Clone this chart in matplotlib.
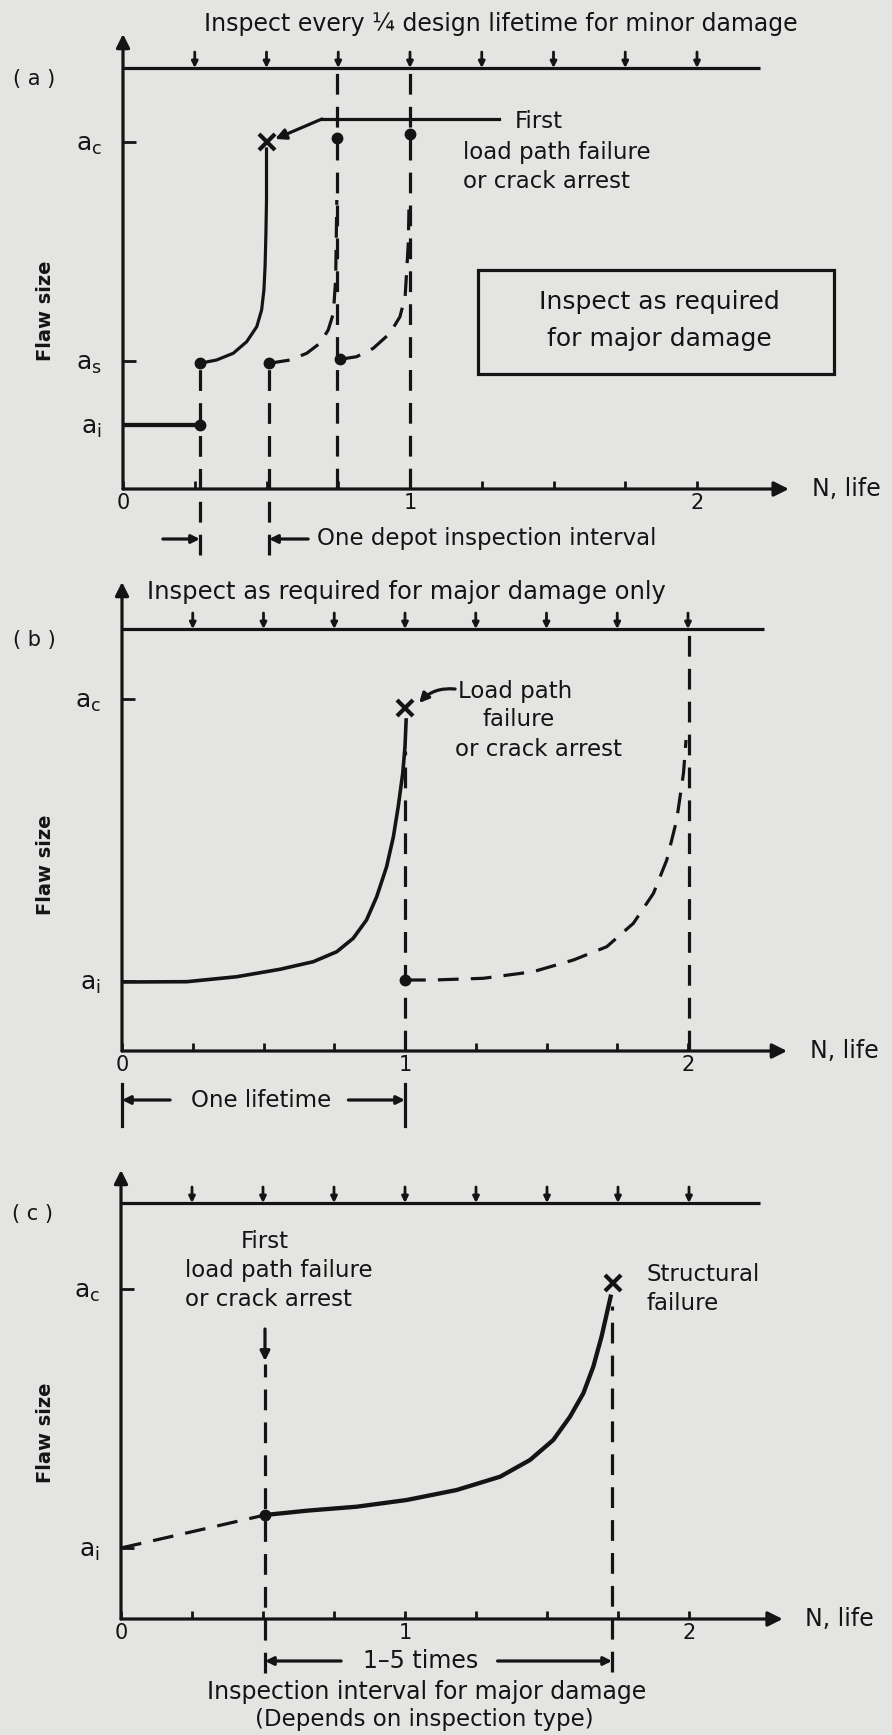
import matplotlib
matplotlib.use('Agg')
import matplotlib.pyplot as plt
from matplotlib.patches import Rectangle

plt.rcParams['font.family'] = ['DejaVu Sans']
plt.rcParams['mathtext.default'] = 'regular'

W, H = 892, 1735
BG = '#e4e4e2'
INK = '#141414'
LW = 2.3
DASH = (6.5, 3.8)
TXT = 16.5
TITLE = 17

# ---------------- data ----------------
quarters = [0.25, 0.5, 0.75, 1.0, 1.25, 1.5, 1.75, 2.0]
xtick_labels = ['0', '1', '2']
xtick_pos = [0, 1, 2]

# panel (a)
a_levels = {'c': 3.47, 's': 1.28, 'i': 0.64}
a_top = 4.21
a_tip = 4.55
a_init_x = [0.0, 0.268]
a_init_y = [0.64, 0.64]
a_solid_x = [0.268, 0.326, 0.384, 0.431, 0.466, 0.483, 0.491, 0.495, 0.498, 0.50, 0.50]
a_solid_y = [1.257, 1.29, 1.357, 1.473, 1.623, 1.79, 1.99, 2.223, 2.557, 2.89, 3.40]
a_dash1_x = [0.509, 0.582, 0.64, 0.686, 0.715, 0.733, 0.741, 0.745]
a_dash1_y = [1.257, 1.29, 1.357, 1.457, 1.59, 1.757, 2.10, 2.89]
a_dash2_x = [0.756, 0.814, 0.872, 0.93, 0.965, 0.983, 0.988, 0.994, 0.997]
a_dash2_y = [1.297, 1.323, 1.407, 1.557, 1.723, 1.923, 2.157, 2.457, 2.89]
a_dots_x = [0.268, 0.268, 0.509, 0.756, 0.745, 1.0]
a_dots_y = [0.64, 1.257, 1.257, 1.297, 3.51, 3.55]
a_fail = (0.50, 3.47)

# panel (b)
b_levels = {'c': 3.52, 'i': 0.70}
b_top = 4.22
b_tip = 4.69
b_solid_x = [0.0, 0.229, 0.406, 0.558, 0.676, 0.759, 0.817, 0.864, 0.90, 0.935, 0.959,
             0.976, 0.992, 1.0, 1.004]
b_solid_y = [0.69, 0.693, 0.743, 0.817, 0.893, 0.993, 1.127, 1.31, 1.543, 1.843, 2.143,
             2.443, 2.777, 3.043, 3.31]
b_dash_x = [1.0, 1.10, 1.277, 1.453, 1.595, 1.713, 1.807, 1.878, 1.925, 1.96, 1.984, 1.993]
b_dash_y = [0.71, 0.71, 0.727, 0.793, 0.91, 1.043, 1.277, 1.577, 1.91, 2.31, 2.777, 3.11]
b_fail = (1.0, 3.43)

# panel (c)
c_levels = {'c': 3.30, 'i': 0.71}
c_top = 4.16
c_tip = 4.49
c_pre_x = [0.0, 0.507]
c_pre_y = [0.71, 1.04]
c_solid_x = [0.507, 0.654, 0.83, 1.006, 1.182, 1.335, 1.44, 1.522, 1.581, 1.628, 1.663,
             1.692, 1.716, 1.724]
c_solid_y = [1.04, 1.083, 1.123, 1.19, 1.29, 1.423, 1.59, 1.79, 2.023, 2.257, 2.523,
             2.823, 3.123, 3.223]
c_fail = (1.733, 3.357)

# ---------------- helpers ----------------
fig = plt.figure(figsize=(W / 100, H / 100), dpi=100, facecolor=BG)


def make_axes(x0, yaxis, unit, xmax, ymax):
    ax = fig.add_axes([x0 / W, (H - yaxis) / H, xmax * unit / W, ymax * 100 / H])
    ax.set_xlim(0, xmax)
    ax.set_ylim(0, ymax)
    ax.set_facecolor('none')
    for s in ax.spines.values():
        s.set_visible(False)
    return ax


def arrow(ax, x0, y0, x1, y1, ms=18, lw=LW):
    ax.annotate('', xy=(x1, y1), xytext=(x0, y0), annotation_clip=False,
                arrowprops=dict(arrowstyle='-|>', lw=lw, color=INK, mutation_scale=ms,
                                shrinkA=0, shrinkB=0))


def txt(ax, x, y, s, ha='left', size=TXT, **kw):
    ax.text(x, y, s, fontsize=size, ha=ha, va='center', color=INK, clip_on=False, **kw)


def frame(ax, levels, top, tip, xend, topend, panel_label, label_x, label_y):
    arrow(ax, 0, 0, 0, tip, ms=20)
    arrow(ax, 0, 0, xend, 0, ms=22)
    ax.plot([0, topend], [top, top], color=INK, lw=LW, solid_capstyle='butt')
    for q in quarters:
        arrow(ax, q, top + 0.16, q, top, ms=9, lw=2.0)
    ax.set_xticks(xtick_pos)
    ax.set_xticklabels(xtick_labels, fontsize=15)
    ax.set_xticks([q for q in quarters if q not in (1.0, 2.0)], minor=True)
    ax.tick_params(axis='x', which='both', direction='in', length=6, width=2, color=INK,
                   pad=3, labelcolor=INK)
    ys = list(levels.values())
    ax.set_yticks(ys)
    ax.set_yticklabels(['$a_{%s}$' % k for k in levels.keys()], fontsize=18)
    ax.tick_params(axis='y', direction='in', length=9, width=2, color=INK, pad=15,
                   labelcolor=INK)
    txt(ax, -0.31, top - 0.11, panel_label, ha='center', size=15)
    txt(ax, xend + 0.08, 0, 'N, life', size=17)
    txt(ax, label_x, label_y, 'Flaw size', ha='center', size=14, rotation=90,
        fontweight='bold')


# ---------------- panel (a) ----------------
ax = make_axes(123, 489, 287, 2.5, 4.75)
frame(ax, a_levels, a_top, a_tip, 2.32, 2.22, '( a )', -0.27, 1.78)
txt(ax, 1.317, 4.65, 'Inspect every ¼ design lifetime for minor damage', ha='center',
    size=TITLE)
ax.plot(a_init_x, a_init_y, color=INK, lw=LW + 0.8)
ax.plot(a_solid_x, a_solid_y, color=INK, lw=LW)
ax.plot(a_dash1_x, a_dash1_y, color=INK, lw=LW, dashes=DASH)
ax.plot(a_dash2_x, a_dash2_y, color=INK, lw=LW, dashes=DASH)
ax.plot([a_dots_x[0]] * 2, [-0.66, a_dots_y[1]], color=INK, lw=LW, dashes=DASH, clip_on=False)
ax.plot([a_dots_x[2]] * 2, [-0.66, a_dots_y[2]], color=INK, lw=LW, dashes=DASH, clip_on=False)
ax.plot([0.745, 0.745], [0, a_top], color=INK, lw=LW, dashes=DASH)
ax.plot([1.0, 1.0], [0, a_top], color=INK, lw=LW, dashes=DASH)
ax.plot(a_dots_x, a_dots_y, 'o', color=INK, ms=7.5, clip_on=False)
ax.plot(*a_fail, marker='x', color=INK, ms=12, mew=3)
# leader
ax.plot([1.31, 0.693], [3.70, 3.70], color=INK, lw=LW)
arrow(ax, 0.693, 3.70, 0.53, 3.50, ms=16)
txt(ax, 1.365, 3.67, 'First')
txt(ax, 1.185, 3.36, 'load path failure')
txt(ax, 1.185, 3.07, 'or crack arrest')
ax.add_patch(Rectangle((1.237, 1.15), 2.477 - 1.237, 2.19 - 1.15, fill=False, ec=INK,
                       lw=LW, clip_on=False))
txt(ax, 1.868, 1.87, 'Inspect as required', ha='center', size=18)
txt(ax, 1.868, 1.50, 'for major damage', ha='center', size=18)
arrow(ax, 0.139, -0.50, 0.268, -0.50, ms=12)
arrow(ax, 0.645, -0.50, 0.509, -0.50, ms=12)
txt(ax, 0.675, -0.50, 'One depot inspection interval')

# ---------------- panel (b) ----------------
ax = make_axes(122, 1051, 283, 2.5, 4.75)
frame(ax, b_levels, b_top, b_tip, 2.35, 2.27, '( b )', -0.27, 1.86)
txt(ax, 0.09, 4.59, 'Inspect as required for major damage only', size=TITLE + 0.5)
ax.plot(b_solid_x, b_solid_y, color=INK, lw=LW + 0.3)
ax.plot(b_dash_x, b_dash_y, color=INK, lw=LW, dashes=DASH)
ax.plot([1.0, 1.0], [0, 3.0], color=INK, lw=LW, dashes=DASH)
ax.plot([2.003, 2.003], [0, b_top], color=INK, lw=LW, dashes=DASH)
ax.plot([b_dash_x[0]], [b_dash_y[0]], 'o', color=INK, ms=7.5)
ax.plot(*b_fail, marker='x', color=INK, ms=11, mew=3)
ax.annotate('', xy=(1.05, 3.48), xytext=(1.177, 3.62), annotation_clip=False,
            arrowprops=dict(arrowstyle='-|>', lw=LW, color=INK, mutation_scale=14,
                            shrinkA=0, shrinkB=0, connectionstyle='arc3,rad=0.25'))
txt(ax, 1.187, 3.60, 'Load path')
txt(ax, 1.40, 3.32, 'failure', ha='center')
txt(ax, 1.177, 3.02, 'or crack arrest')
# one lifetime
ax.plot([0, 0], [-0.33, -0.75], color=INK, lw=LW, clip_on=False)
ax.plot([1, 1], [-0.33, -0.75], color=INK, lw=LW, clip_on=False)
arrow(ax, 0.17, -0.49, 0.0, -0.49, ms=12)
arrow(ax, 0.80, -0.49, 1.0, -0.49, ms=12)
txt(ax, 0.49, -0.49, 'One lifetime', ha='center')

# ---------------- panel (c) ----------------
ax = make_axes(121, 1619, 284, 2.5, 4.75)
frame(ax, c_levels, c_top, c_tip, 2.33, 2.25, '( c )', -0.266, 1.86)
ax.plot(c_pre_x, c_pre_y, color=INK, lw=LW, dashes=DASH)
ax.plot(c_solid_x, c_solid_y, color=INK, lw=LW + 0.8)
ax.plot([c_pre_x[1]], [c_pre_y[1]], 'o', color=INK, ms=7.5)
ax.plot(*c_fail, marker='x', color=INK, ms=11, mew=3)
ax.plot([0.507, 0.507], [-0.54, 2.55], color=INK, lw=LW, dashes=DASH, clip_on=False)
ax.plot([1.729, 1.729], [-0.53, 3.13], color=INK, lw=LW, dashes=DASH, clip_on=False)
arrow(ax, 0.507, 2.90, 0.507, 2.58, ms=14)
txt(ax, 0.507, 3.78, 'First', ha='center')
txt(ax, 0.225, 3.49, 'load path failure')
txt(ax, 0.225, 3.20, 'or crack arrest')
txt(ax, 1.85, 3.45, 'Structural')
txt(ax, 1.85, 3.16, 'failure')
arrow(ax, 0.775, -0.42, 0.507, -0.42, ms=12)
arrow(ax, 1.326, -0.42, 1.729, -0.42, ms=12)
txt(ax, 1.056, -0.42, '1–5 times', ha='center', size=17)
txt(ax, 1.077, -0.73, 'Inspection interval for major damage', ha='center', size=17)
txt(ax, 1.067, -1.00, '(Depends on inspection type)', ha='center')

fig.savefig('out.png', dpi=100, facecolor=BG)
